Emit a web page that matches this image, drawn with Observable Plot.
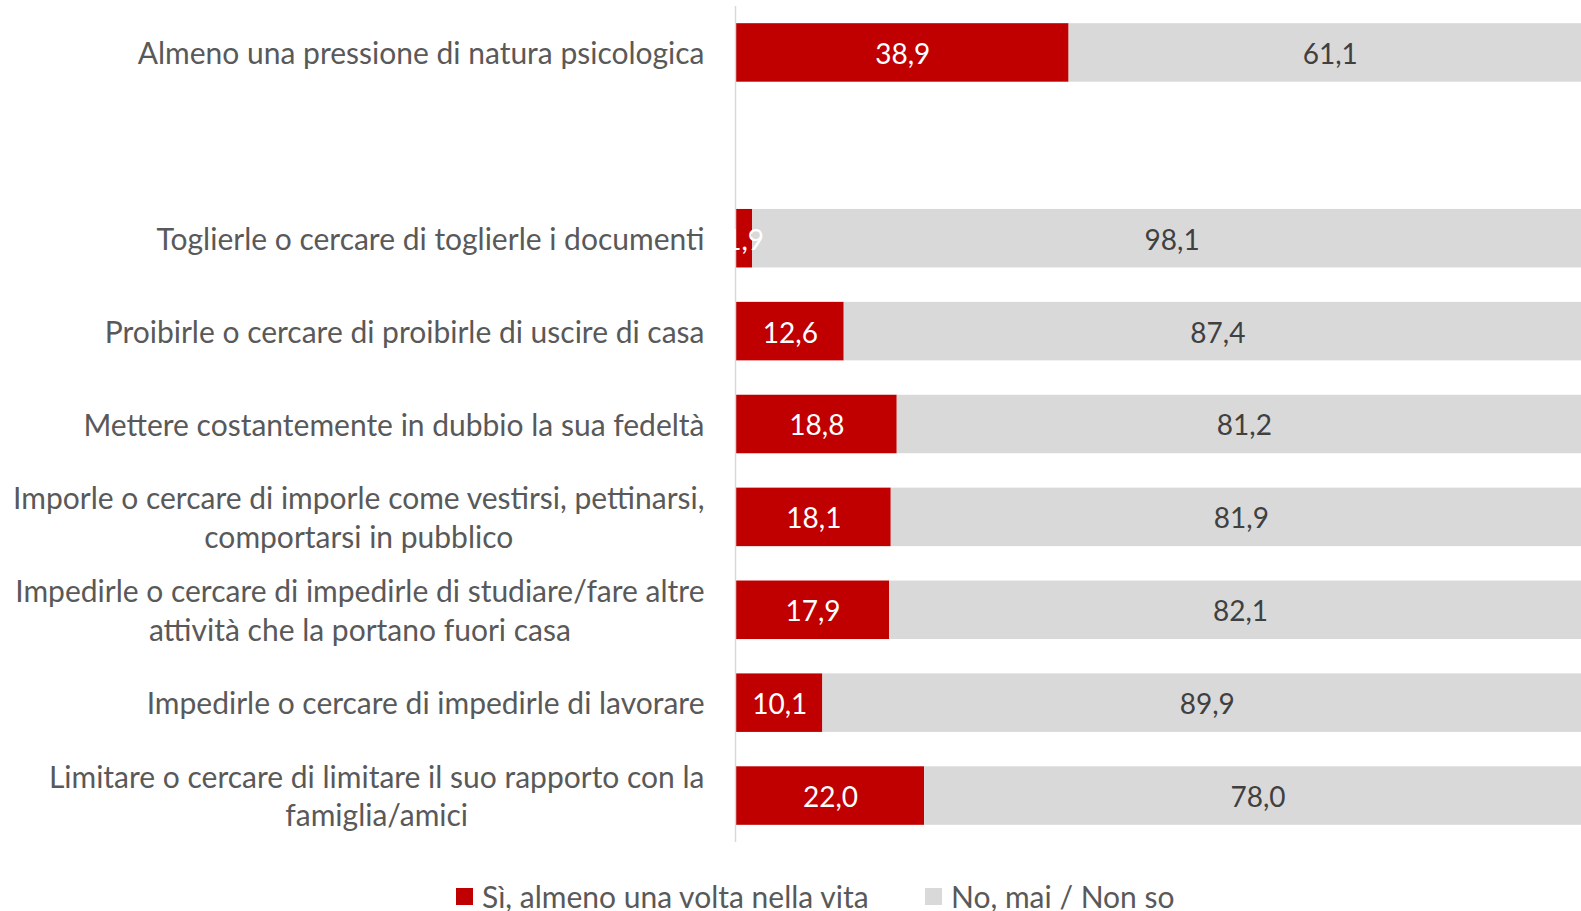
<!DOCTYPE html>
<html>
<head>
<meta charset="utf-8">
<script src="https://cdn.jsdelivr.net/npm/d3@7"></script>
<script src="https://cdn.jsdelivr.net/npm/@observablehq/plot@0.6"></script>
<style>
  html, body { margin: 0; padding: 0; background: #fff; overflow: hidden; width: 1581px; height: 911px; }
  #chart svg { display: block; overflow: hidden; }
  .legend { position: relative; height: 61px; font-family: Lato, "Open Sans", sans-serif; font-size: 30px; color: #595959; }
  .legend .item { position: absolute; top: 28px; display: flex; align-items: center; white-space: nowrap; line-height: 36px; }
  .legend .sw { width: 17px; height: 17px; margin-right: 9px; }
</style>
</head>
<body>
<div id="chart"></div>
<div class="legend" id="legend"></div>
<script>
const spacer = " ";
const categories = [
  "Almeno una pressione di natura psicologica",
  "Toglierle o cercare di toglierle i documenti",
  "Proibirle o cercare di proibirle di uscire di casa",
  "Mettere costantemente in dubbio la sua fedeltà",
  "Imporle o cercare di imporle come vestirsi, pettinarsi,\ncomportarsi in pubblico",
  "Impedirle o cercare di impedirle di studiare/fare altre\nattività che la portano fuori casa",
  "Impedirle o cercare di impedirle di lavorare",
  "Limitare o cercare di limitare il suo rapporto con la\nfamiglia/amici"
];
const yesValues = [38.9, 1.9, 12.6, 18.8, 18.1, 17.9, 10.1, 22.0];
const noValues = [61.1, 98.1, 87.4, 81.2, 81.9, 82.1, 89.9, 78.0];
const seriesNames = ["Sì, almeno una volta nella vita", "No, mai / Non so"];
const seriesColors = ["#C00000", "#D9D9D9"];
const labelColors = ["#FFFFFF", "#404040"];

const yDomain = [categories[0], spacer, ...categories.slice(1)];

const table = [];
categories.forEach((c, i) => {
  table.push({cat: c, series: seriesNames[0], value: yesValues[i]});
  table.push({cat: c, series: seriesNames[1], value: noValues[i]});
});
const fmt = v => v.toFixed(1).replace(".", ",");
const FONT = "Lato, 'Open Sans', sans-serif";

const valueLabels = (k) => Plot.text(table, Plot.stackX({
  x: "value", y: "cat", z: "series", order: seriesNames,
  text: d => d.series === seriesNames[k] ? fmt(d.value) : null,
  fill: labelColors[k], fontSize: 28, dy: 2
}));

const chart = Plot.plot({
  width: 1581,
  height: 850,
  marginLeft: 736,
  marginRight: 0,
  marginTop: 6,
  marginBottom: 8,
  style: {fontFamily: FONT, background: "#fff"},
  x: {domain: [0, 100], range: [736, 1591], axis: null},
  y: {domain: yDomain, range: [6, 842], paddingInner: 0.37, paddingOuter: 0.185, round: false, axis: null},
  color: {domain: seriesNames, range: seriesColors},
  marks: [
    Plot.barX(table, Plot.stackX({x: "value", y: "cat", fill: "series", z: "series", order: seriesNames})),
    Plot.ruleX([0], {stroke: "#D9D9D9", strokeWidth: 1.5, dx: -1}),
    valueLabels(0),
    valueLabels(1),
    Plot.text(categories, {
      y: d => d, text: d => d,
      frameAnchor: "left", textAnchor: "end", lineAnchor: "middle",
      dx: -32, dy: -1, lineHeight: 1.277, fontSize: 30, fill: "#595959"
    })
  ]
});
document.getElementById("chart").appendChild(chart);

// center multi-line category labels relative to each other (block stays right-aligned)
chart.querySelectorAll("text").forEach(t => {
  const spans = t.querySelectorAll("tspan");
  if (spans.length > 1) {
    let w = 0;
    spans.forEach(s => { w = Math.max(w, s.getComputedTextLength()); });
    t.setAttribute("text-anchor", "middle");
    t.style.textAnchor = "middle";
    spans.forEach(s => s.setAttribute("x", -w / 2));
  }
});

// legend
const legend = document.getElementById("legend");
const lefts = [456, 925];
seriesNames.forEach((name, i) => {
  const item = document.createElement("div");
  item.className = "item";
  item.style.left = lefts[i] + "px";
  const sw = document.createElement("span");
  sw.className = "sw";
  sw.style.background = seriesColors[i];
  const tx = document.createElement("span");
  tx.textContent = name;
  item.appendChild(sw);
  item.appendChild(tx);
  legend.appendChild(item);
});
</script>
</body>
</html>
